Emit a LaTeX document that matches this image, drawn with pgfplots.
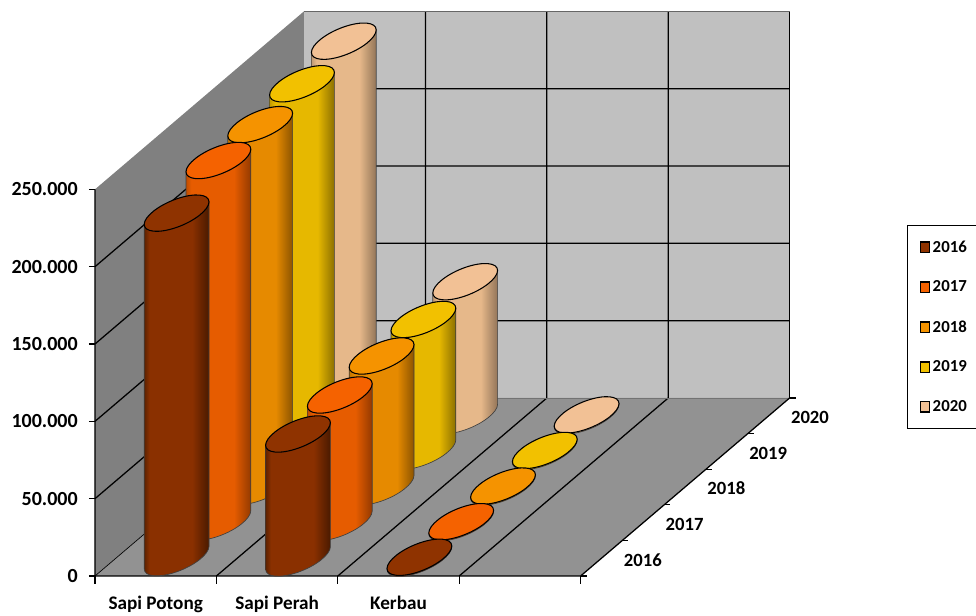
\documentclass[border=0pt]{standalone}
\usepackage{fontspec}
\setmainfont{Carlito}
\usepackage{pgfplots}
\usepackage{pgfplotstable}
\pgfplotsset{compat=1.18}

% 1 px of the reference = 0.75pt here
\definecolor{wallside}{HTML}{808080}
\definecolor{wallback}{HTML}{C0C0C0}
\definecolor{wallfloor}{HTML}{929292}

% body shadings: dark left edge, flat middle, darker right edge
\newcommand{\cylshade}[4]{%
  \pgfdeclarehorizontalshading{#1}{100bp}{%
    color(0bp)=(#2); color(25bp)=(#2); color(29bp)=(#3); color(62bp)=(#3);
    color(75bp)=(#4); color(100bp)=(#4)}}
\definecolor{a16}{HTML}{5E2200}\definecolor{b16}{HTML}{8A3000}\definecolor{c16}{HTML}{4A1A00}\definecolor{t16}{HTML}{8F3300}
\definecolor{a17}{HTML}{C04D00}\definecolor{b17}{HTML}{E65C00}\definecolor{c17}{HTML}{943A00}\definecolor{t17}{HTML}{F56200}
\definecolor{a18}{HTML}{C07300}\definecolor{b18}{HTML}{E68A00}\definecolor{c18}{HTML}{8C5400}\definecolor{t18}{HTML}{F59300}
\definecolor{a19}{HTML}{C09A00}\definecolor{b19}{HTML}{E6B800}\definecolor{c19}{HTML}{8C7000}\definecolor{t19}{HTML}{F2C100}
\definecolor{a20}{HTML}{C09A74}\definecolor{b20}{HTML}{E6B88A}\definecolor{c20}{HTML}{937558}\definecolor{t20}{HTML}{F2C195}
\cylshade{s16}{a16}{b16}{c16}
\cylshade{s17}{a17}{b17}{c17}
\cylshade{s18}{a18}{b18}{c18}
\cylshade{s19}{a19}{b19}{c19}
\cylshade{s20}{a20}{b20}{c20}

% a cylinder as plot mark, hanging from its top centre; \barh comes from the data
% the tilted ellipse is four bezier arcs
\newcommand{\cylmark}[2]{%
  \pgfmathsetmacro{\ya}{-8.46-\barh}%
  \pgfmathsetmacro{\yb}{-14.37-\barh}%
  \pgfmathsetmacro{\yc}{-15.37-\barh}%
  \pgfmathsetmacro{\yd}{-10.7-\barh}%
  \pgfmathsetmacro{\ye}{-6.03-\barh}%
  \pgfmathsetmacro{\yf}{2.55-\barh}%
  \pgfmathsetmacro{\yg}{8.46-\barh}%
  \path[shading=#1,draw=black!75,line width=0.5pt]
    (-24.3pt,-8.46pt) -- (-24.3pt,\ya pt)
    .. controls (-24.3pt,\yb pt) and (-13.42pt,\yc pt) .. (0pt,\yd pt)
    .. controls (13.42pt,\ye pt) and (24.3pt,\yf pt) .. (24.3pt,\yg pt)
    -- (24.3pt,8.46pt) -- cycle;
  \path[fill=#2,draw=black,line width=0.8pt]
    (24.3pt,8.46pt)
    .. controls (24.3pt,14.37pt) and (13.42pt,15.37pt) .. (0pt,10.7pt)
    .. controls (-13.42pt,6.03pt) and (-24.3pt,-2.55pt) .. (-24.3pt,-8.46pt)
    .. controls (-24.3pt,-14.37pt) and (-13.42pt,-15.37pt) .. (0pt,-10.7pt)
    .. controls (13.42pt,-6.03pt) and (24.3pt,2.55pt) .. (24.3pt,8.46pt) -- cycle;
}
\pgfdeclareplotmark{cyl16}{\cylmark{s16}{t16}}
\pgfdeclareplotmark{cyl17}{\cylmark{s17}{t17}}
\pgfdeclareplotmark{cyl18}{\cylmark{s18}{t18}}
\pgfdeclareplotmark{cyl19}{\cylmark{s19}{t19}}
\pgfdeclareplotmark{cyl20}{\cylmark{s20}{t20}}

\pgfplotsset{
  cylplot/.style n args={2}{
    only marks,
    mark=cyl#1,
    forget plot=false,
    visualization depends on={\thisrow{val}*0.001158 \as \barh},
    legend image code/.code={
      \path[fill=#2,draw=black,line width=1.1pt] (1pt,-3.9pt) rectangle (7.8pt,3.9pt);
    },
  },
}

% category position, depth, value
\pgfplotstableread{
cat depth val
0.5 0.5 223100
1.5 0.5 80300
2.5 0.5 600
}\dataA
\pgfplotstableread{
cat depth val
0.5 1.5 234100
1.5 1.5 82500
2.5 1.5 600
}\dataB
\pgfplotstableread{
cat depth val
0.5 2.5 234300
1.5 2.5 84700
2.5 2.5 600
}\dataC
\pgfplotstableread{
cat depth val
0.5 3.5 237700
1.5 3.5 85300
2.5 3.5 600
}\dataD
\pgfplotstableread{
cat depth val
0.5 4.5 242200
1.5 4.5 86700
2.5 4.5 600
}\dataE

\begin{document}
\begin{tikzpicture}
  \begin{axis}[
      at={(71.25pt,29.25pt)},
      anchor=origin,
      x={(91.05pt,0pt)},
      y={(31.35pt,26.7pt)},
      z={(0pt,0.001158pt)},
      xmin=0,xmax=4,ymin=0,ymax=5,zmin=0,zmax=250000,
      hide axis,
      clip=false,
      legend style={
        at={(1.169,0.622)},
        anchor=north west,
        draw=black,
        line width=0.8pt,
        fill=white,
        font=\bfseries\fontsize{12.6}{14}\selectfont,
        row sep=16pt,
        inner xsep=9pt,
        inner ysep=9.5pt,
      },
      legend cell align=left,
      reverse legend,
    ]
    % walls and floor
    \addplot3[fill=wallside,draw=none,forget plot] coordinates {(0,0,0) (0,5,0) (0,5,250000) (0,0,250000)};
    \addplot3[fill=wallback,draw=none,forget plot] coordinates {(0,5,0) (4,5,0) (4,5,250000) (0,5,250000)};
    \addplot3[fill=wallfloor,draw=none,forget plot] coordinates {(0,0,0) (4,0,0) (4,5,0) (0,5,0)};

    % grid on the walls
    \pgfplotsinvokeforeach{50000,100000,150000,200000}{
      \addplot3[black,line width=0.95pt,forget plot] coordinates {(0,0,#1) (0,5,#1) (4,5,#1)};
    }
    \pgfplotsinvokeforeach{1,2,3}{
      \addplot3[black,line width=0.95pt,forget plot] coordinates {(#1,0,0) (#1,5,0) (#1,5,250000)};
    }
    \addplot3[black,line width=0.95pt,forget plot] coordinates {(4,5,0) (4,5,250000)};
    \addplot3[black!60,line width=0.8pt,forget plot] coordinates {(0,5,250000) (4,5,250000)};
    \addplot3[black!55,line width=0.5pt,forget plot] coordinates {(0,5,0) (4,5,0)};
    % outer edges and ticks
    \addplot3[black,line width=0.95pt,forget plot] coordinates {(0,0,250000) (0,0,0) (4,0,0) (4,5,0)};
    \addplot3[black,line width=0.5pt,forget plot] coordinates {(0,0,0) (0,5,0)};
    \pgfplotsinvokeforeach{0,50000,100000,150000,200000,250000}{
      \addplot3[black,line width=0.8pt,forget plot] coordinates {(-0.05,0,#1) (0,0,#1)};
    }
    \pgfplotsinvokeforeach{0,1,2,3,4}{
      \addplot3[black,line width=0.8pt,forget plot] coordinates {(#1,0,-5000) (#1,0,0)};
    }
    \pgfplotsinvokeforeach{0,1,2,3,4,5}{
      \addplot3[black,line width=0.8pt,forget plot] coordinates {(4,#1,0) (4.05,#1,0)};
    }

    % back to front
    \addplot3[cylplot={20}{t20}] table[x=cat,y=depth,z=val] {\dataE};
    \addlegendentry{2020}
    \addplot3[cylplot={19}{t19}] table[x=cat,y=depth,z=val] {\dataD};
    \addlegendentry{2019}
    \addplot3[cylplot={18}{t18}] table[x=cat,y=depth,z=val] {\dataC};
    \addlegendentry{2018}
    \addplot3[cylplot={17}{t17}] table[x=cat,y=depth,z=val] {\dataB};
    \addlegendentry{2017}
    \addplot3[cylplot={16}{t16}] table[x=cat,y=depth,z=val] {\dataA};
    \addlegendentry{2016}

    % labels
    \tikzset{ztl/.style={anchor=east,font=\bfseries\fontsize{15}{16}\selectfont,inner sep=0pt},
             xtl/.style={anchor=base,font=\bfseries\fontsize{14.4}{16}\selectfont,inner sep=0pt},
             ytl/.style={font=\bfseries\fontsize{14}{16}\selectfont,inner sep=0pt}}
    \node[ztl] at (axis cs:-0.14,0,0) {0};
    \node[ztl] at (axis cs:-0.14,0,50000) {50.000};
    \node[ztl] at (axis cs:-0.14,0,100000) {100.000};
    \node[ztl] at (axis cs:-0.14,0,150000) {150.000};
    \node[ztl] at (axis cs:-0.14,0,200000) {200.000};
    \node[ztl] at (axis cs:-0.14,0,250000) {250.000};
    \node[xtl] at (axis cs:0.5,0,-21500) {Sapi Potong};
    \node[xtl] at (axis cs:1.5,0,-21500) {Sapi Perah};
    \node[xtl] at (axis cs:2.5,0,-21500) {Kerbau};
    \node[ytl] at (axis cs:4.34,0.5,-1000) {2016};
    \node[ytl] at (axis cs:4.34,1.5,-1000) {2017};
    \node[ytl] at (axis cs:4.34,2.5,-1000) {2018};
    \node[ytl] at (axis cs:4.34,3.5,-1000) {2019};
    \node[ytl] at (axis cs:4.34,4.5,-1000) {2020};
  \end{axis}
  \pgfresetboundingbox
  \path[use as bounding box] (0,0) rectangle (732pt,461.25pt);
\end{tikzpicture}
\end{document}
